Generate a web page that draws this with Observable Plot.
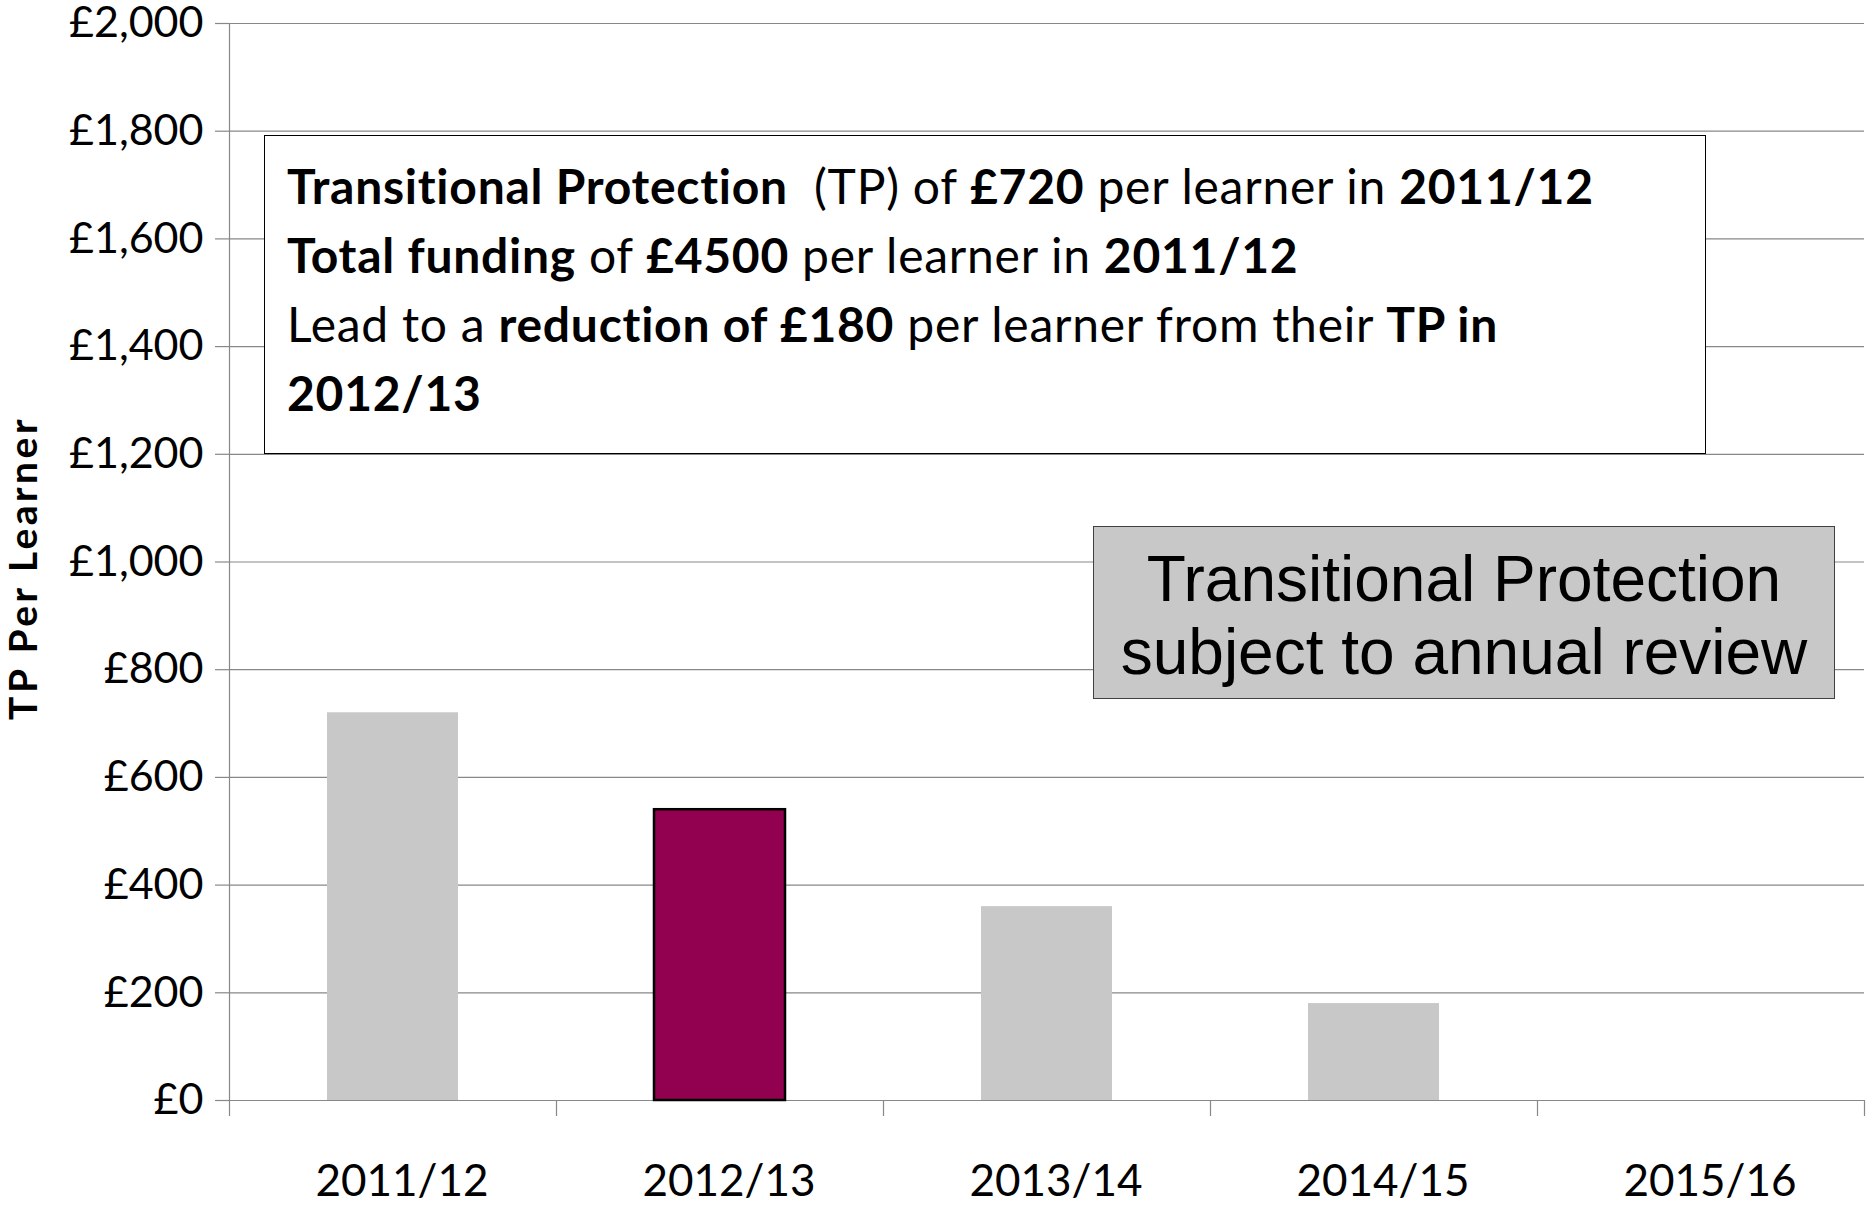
<!DOCTYPE html>
<html>
<head>
<meta charset="utf-8">
<script src="https://cdn.jsdelivr.net/npm/d3@7"></script>
<script src="https://cdn.jsdelivr.net/npm/@observablehq/plot@0.6"></script>
<style>
  html, body { margin: 0; padding: 0; background: #fff; }
  #wrap { position: relative; width: 1868px; height: 1207px; }
  #note {
    position: absolute; left: 264px; top: 135px; width: 1442px; height: 319px;
    box-sizing: border-box; border: 1.5px solid #000; background: #fff;
    padding: 15px 0 0 22px;
    font-family: Lato, sans-serif; font-size: 48px; letter-spacing: 0.75px; line-height: 69px; color: #000;
    white-space: nowrap;
  }
  #note b { font-weight: 700; }
  #review {
    position: absolute; left: 1093px; top: 526px; width: 742px; height: 173px;
    box-sizing: border-box; border: 1.5px solid #404040; background: #c8c8c8;
    font-family: "Liberation Sans", Arial, sans-serif; font-size: 64px; line-height: 73px;
    color: #000; text-align: center; padding-top: 16px;
  }
</style>
</head>
<body>
<div id="wrap"></div>
<script>
const categories = ["2011/12", "2012/13", "2013/14", "2014/15", "2015/16"];
const values = [720, 540, 360, 180, 0];
const highlight = "2012/13";
const yTicks = [0, 200, 400, 600, 800, 1000, 1200, 1400, 1600, 1800, 2000];
const yTitle = "TP Per Learner";

const data = categories.map((c, i) => ({category: c, index: i, value: values[i]}));
const fmt = d => "£" + d3.format(",")(d);

const chart = Plot.plot({
  width: 1868,
  height: 1207,
  marginLeft: 229,
  marginRight: 4,
  marginTop: 23,
  marginBottom: 107,
  style: {fontFamily: "Lato, sans-serif", color: "#000", background: "#fff", overflow: "visible"},
  x: {type: "linear", domain: [0, categories.length], label: null},
  y: {domain: [0, 2000], label: null},
  marks: [
    Plot.gridY(yTicks, {stroke: "#888", strokeOpacity: 1, strokeWidth: 1.2}),
    Plot.ruleX([0], {stroke: "#888", strokeWidth: 1.2}),
    Plot.rectY(data.filter(d => d.category !== highlight), {
      x1: d => d.index, x2: d => d.index + 1, y: "value",
      insetLeft: 98, insetRight: 98, fill: "#c8c8c8"
    }),
    Plot.rectY(data.filter(d => d.category === highlight), {
      x1: d => d.index, x2: d => d.index + 1, y: "value",
      insetLeft: 98, insetRight: 98, fill: "#920050", stroke: "#000", strokeWidth: 2.5
    }),
    Plot.axisY(yTicks, {
      label: null, tickSize: 14, tickPadding: 12, tickFormat: fmt, fontSize: 43,
      stroke: "#888", strokeWidth: 1.2
    }),
    Plot.axisX(d3.range(categories.length + 1), {
      label: null, tickSize: 16, tickFormat: () => "", stroke: "#888", strokeWidth: 1.2
    }),
    Plot.axisX(categories.map((c, i) => i + 0.5), {
      label: null, tickSize: 0, tickPadding: 64, fontSize: 44, dx: 9,
      tickFormat: v => categories[Math.floor(v)]
    }),
    Plot.text([yTitle], {
      frameAnchor: "left", textAnchor: "middle", dx: -205, dy: 6, rotate: -90,
      fontSize: 39, fontWeight: "bold", fill: "#000"
    })
  ]
});

const wrap = document.getElementById("wrap");
wrap.appendChild(chart);
// letter spacing on the rotated axis title
chart.querySelectorAll("text").forEach(t => {
  if (t.textContent === yTitle) t.setAttribute("letter-spacing", "3.5");
});

const note = document.createElement("div");
note.id = "note";
note.innerHTML =
  "<b>Transitional Protection</b>&nbsp; (TP) of <b>£720</b> per learner in <b>2011/12</b><br>" +
  "<b>Total funding</b> of <b>£4500</b> per learner in <b>2011/12</b><br>" +
  "Lead to a <b>reduction of £180</b> per learner from their <b>TP in</b><br>" +
  "<b>2012/13</b>";
wrap.appendChild(note);

const review = document.createElement("div");
review.id = "review";
review.innerHTML = "Transitional Protection<br>subject to annual review";
wrap.appendChild(review);
</script>
</body>
</html>
